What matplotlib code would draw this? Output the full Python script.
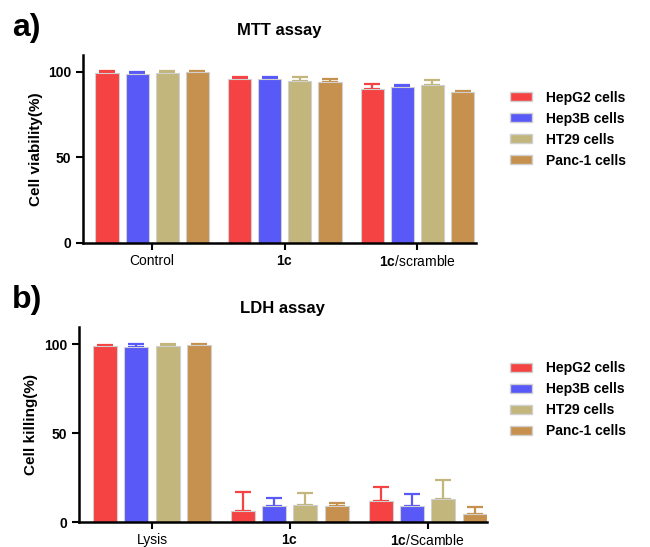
import numpy as np
import matplotlib.pyplot as plt
from matplotlib.patches import Patch

plt.rcParams['font.family'] = ['Liberation Sans', 'DejaVu Sans']
plt.rcParams['mathtext.fontset'] = 'custom'
plt.rcParams['mathtext.bf'] = 'Liberation Sans:bold'
plt.rcParams['mathtext.rm'] = 'Liberation Sans'

cells = ['HepG2 cells', 'Hep3B cells', 'HT29 cells', 'Panc-1 cells']
colors = ['#F54343', '#5959F7', '#C2B67C', '#C6914E']

# MTT assay (cell viability %)
mtt_groups = ['Control', r'$\mathbf{1c}$', r'$\mathbf{1c}$/scramble']
mtt_mean = [[99.5, 96.0, 90.0],
            [99.0, 96.0, 91.0],
            [99.5, 94.5, 92.0],
            [100.0, 94.0, 88.0]]
mtt_err = [[0.8, 1.2, 3.0],
           [0.8, 1.0, 1.0],
           [1.2, 2.5, 3.0],
           [0.5, 2.0, 1.0]]

# LDH assay (cell killing %)
ldh_groups = ['Lysis', r'$\mathbf{1c}$', r'$\mathbf{1c}$/Scamble']
ldh_mean = [[99.0, 6.0, 11.8],
            [98.7, 9.2, 9.2],
            [99.0, 9.6, 13.2],
            [99.5, 8.8, 4.7]]
ldh_err = [[0.8, 10.7, 7.7],
           [1.5, 4.3, 6.6],
           [1.5, 6.9, 10.3],
           [0.6, 1.9, 3.9]]

fig = plt.figure(figsize=(6.5, 5.47), dpi=100)


def panel(rect, groups, means, errs, ylabel, title, title_pad, leg_y, xlim):
    ax = fig.add_axes(rect)
    x = np.arange(len(groups))
    w, step = 0.174, 0.227
    for i, (m, e) in enumerate(zip(means, errs)):
        pos = x + (i - 1.5) * step
        ax.bar(pos, m, width=w, color=colors[i], edgecolor='#d0d0d0',
               linewidth=0.8, label=cells[i], zorder=2)
        ax.errorbar(pos, m, yerr=[np.zeros(len(e)), e], fmt='none',
                    ecolor=colors[i], elinewidth=1.6, capsize=6,
                    capthick=1.6, zorder=1)
    ax.set_xlim(*xlim)
    ax.set_ylim(0, 110)
    ax.set_yticks([0, 50, 100])
    ax.set_yticklabels(['0', '50', '100'], fontweight='bold', fontsize=10)
    ax.set_xticks(x)
    ax.set_xticklabels(groups, fontsize=10)
    ax.tick_params(axis='x', pad=3)
    ax.set_ylabel(ylabel, fontweight='bold', fontsize=11)
    ax.set_title(title, fontweight='bold', fontsize=12, pad=title_pad)
    for s in ['top', 'right']:
        ax.spines[s].set_visible(False)
    for s in ['left', 'bottom']:
        ax.spines[s].set_linewidth(1.8)
    ax.tick_params(width=1.5, length=5)
    handles = [Patch(facecolor=c, edgecolor='#d0d0d0') for c in colors]
    fig.legend(handles, cells, loc='upper left', bbox_to_anchor=(0.765, leg_y),
               frameon=False, prop={'weight': 'bold', 'size': 10},
               handlelength=1.6, handleheight=0.6, labelspacing=0.5,
               handletextpad=1.0)
    return ax


panel([0.128, 0.556, 0.604, 0.344], mtt_groups, mtt_mean, mtt_err,
      'Cell viability(%)', 'MTT assay', 14, 0.857, (-0.52, 2.44))
panel([0.1215, 0.0457, 0.6275, 0.357], ldh_groups, ldh_mean, ldh_err,
      'Cell killing(%)', 'LDH assay', 10, 0.362, (-0.53, 2.43))

fig.text(0.018, 0.934, 'a)', fontsize=23, fontweight='bold')
fig.text(0.018, 0.437, 'b)', fontsize=23, fontweight='bold')

fig.savefig('out.png', dpi=100)
